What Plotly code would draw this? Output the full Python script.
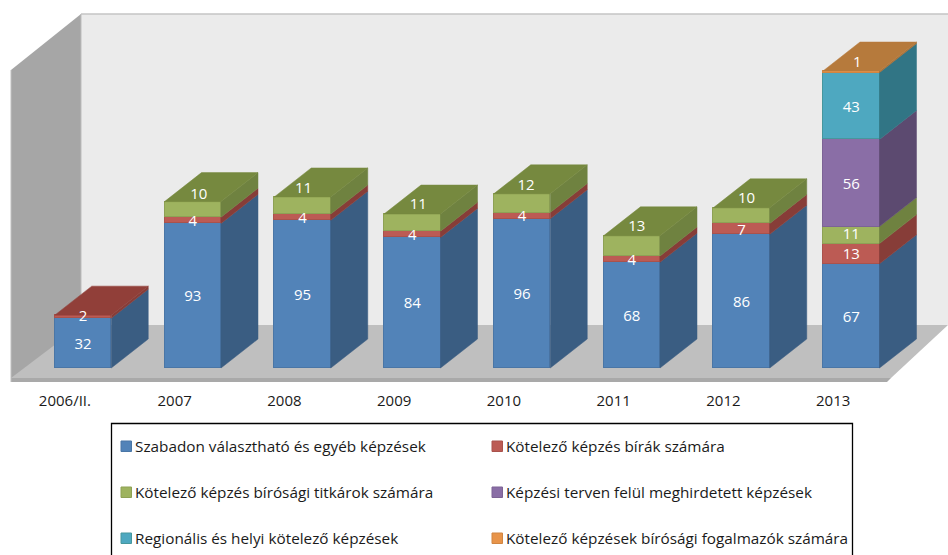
import numpy as np
import plotly.graph_objects as go

W, H = 948, 555
PLOT_BOTTOM = 390

categories = ["2006/II.", "2007", "2008", "2009", "2010", "2011", "2012", "2013"]
series_names = [
    "Szabadon választható és egyéb képzések",
    "Kötelező képzés bírák számára",
    "Kötelező képzés bírósági titkárok számára",
    "Képzési terven felül meghirdetett képzések",
    "Regionális és helyi kötelező képzések",
    "Kötelező képzések bírósági fogalmazók számára",
]
szabadon = [32, 93, 95, 84, 96, 68, 86, 67]
birak = [2, 4, 4, 4, 4, 4, 7, 13]
titkarok = [None, 10, 11, 11, 12, 13, 10, 11]
terven_felul = [None, None, None, None, None, None, None, 56]
regionalis = [None, None, None, None, None, None, None, 43]
fogalmazok = [None, None, None, None, None, None, None, 1]
all_series = [szabadon, birak, titkarok, terven_felul, regionalis, fogalmazok]

front_colors = ["#5283b8", "#bc5b54", "#9eb35f", "#8a6ea6", "#4ea8c0", "#e8944a"]
edge_colors = ["#4a76a6", "#a9524c", "#8ea155", "#7c6395", "#46979d", "#d08542"]
side_colors = ["#3a5d82", "#873d38", "#6f8240", "#5c4a70", "#317585", "#a86f35"]
top_colors = ["#3a5d82", "#913f39", "#76893f", "#5c4a70", "#317585", "#b67a3c"]

# px geometry of the pseudo-3D view
X0, X_STEP = 83, 109.75
Y0, Y_UNIT = 368, 1.555
BAR_W = 56.5 / X_STEP
DX, DY = 37 / X_STEP, 29 / Y_UNIT
x_range = [-X0 / X_STEP, (W - X0) / X_STEP]
y_range = [(Y0 - PLOT_BOTTOM) / Y_UNIT, Y0 / Y_UNIT]

# label shift of the top stack element, in px (right, up)
LABEL_DOWN = 2
top_label_dx = [0, 6, 1, 6, 4, 5, 5, 6]
top_label_dy = [1, 16, 18, 19, 19, 21, 18, 11]
label_nudge_up = {(7, 2): 2}

xs = list(range(len(categories)))
vals = np.array([[np.nan if v is None else v for v in s] for s in all_series], dtype=float)
tops = np.nancumsum(vals, axis=0)
fig = go.Figure()

# front faces
for s, name, c, e in zip(all_series, series_names, front_colors, edge_colors):
    fig.add_trace(go.Bar(x=xs, y=s, name=name, width=BAR_W, showlegend=False,
                         marker=dict(color=c, line=dict(color=e, width=1))))

# side and top faces, from the same values
for k, name in enumerate(series_names):
    sx, sy, tx, ty = [], [], [], []
    for i in xs:
        if np.isnan(vals[k, i]):
            continue
        r = i + BAR_W / 2
        l = i - BAR_W / 2
        lo, hi = tops[k, i] - vals[k, i], tops[k, i]
        sx += [r, r + DX, r + DX, r, r, None]
        sy += [lo, lo + DY, hi + DY, hi, lo, None]
        if np.isnan(vals[k + 1:, i]).all():
            tx += [l, r, r + DX, l + DX, l, None]
            ty += [hi, hi, hi + DY, hi + DY, hi, None]
    for px_, py_, col in ((sx, sy, side_colors[k]), (tx, ty, top_colors[k])):
        if px_:
            fig.add_trace(go.Scatter(x=px_, y=py_, mode="lines", fill="toself", fillcolor=col,
                                     line=dict(color=col, width=0.5), hoverinfo="skip",
                                     showlegend=False))

# value labels
lx, ly, lt = [], [], []
for i in xs:
    last = max(k for k in range(len(all_series)) if not np.isnan(vals[k, i]))
    for k in range(last + 1):
        if np.isnan(vals[k, i]):
            continue
        mid = tops[k, i] - vals[k, i] / 2 - LABEL_DOWN / Y_UNIT
        mid += label_nudge_up.get((i, k), 0) / Y_UNIT
        if k == last:
            lx.append(i + top_label_dx[i] / X_STEP)
            ly.append(mid + top_label_dy[i] / Y_UNIT)
        else:
            lx.append(i)
            ly.append(mid)
        lt.append(str(int(vals[k, i])))
fig.add_trace(go.Scatter(x=lx, y=ly, text=lt, mode="text", showlegend=False, hoverinfo="skip",
                         textposition="middle center",
                         textfont=dict(family="Open Sans", size=15, color="white")))


def xp(p):
    return p / W


def yp(p):
    return 1 - p / PLOT_BOTTOM


def poly(points, fill, line=None, lw=0, layer="below"):
    path = "M" + "L".join(f"{xp(a):.5f},{yp(b):.5f}" for a, b in points) + "Z"
    return dict(type="path", xref="paper", yref="paper", path=path, fillcolor=fill, layer=layer,
                line=dict(color=line or fill, width=lw))


shapes = [
    poly([(81, 14), (948, 14), (948, 325), (81, 325)], "#ebebeb"),
    poly([(11, 70), (81, 14), (81, 325), (11, 381)], "#a6a6a6"),
    poly([(11, 378), (81, 325), (948, 325), (891, 378)], "#bfbfbf"),
    poly([(11, 378), (891, 378), (887, 382), (11, 382)], "#a9a9a9"),
    dict(type="line", xref="paper", yref="paper", x0=xp(81), x1=xp(948), y0=yp(14), y1=yp(14),
         line=dict(color="#c4c4c4", width=1.5), layer="below"),
    dict(type="line", xref="paper", yref="paper", x0=xp(81), x1=xp(81), y0=yp(14), y1=yp(325),
         line=dict(color="#bdbdbd", width=1), layer="below"),
    dict(type="line", xref="paper", yref="paper", x0=xp(11), x1=xp(11), y0=yp(70), y1=yp(382),
         line=dict(color="#c0c0c0", width=1), layer="below"),
    dict(type="rect", xref="paper", yref="paper", x0=xp(111.5), x1=xp(852.5), y0=yp(423.5), y1=yp(570),
         line=dict(color="#000000", width=1.3), fillcolor="rgba(0,0,0,0)", layer="above"),
]

# legend block
annotations = []
legend_col_x = [121, 492]
legend_row_y = [446, 492, 538]
for n, (name, c, e) in enumerate(zip(series_names, front_colors, edge_colors)):
    cx, ry = legend_col_x[n % 2], legend_row_y[n // 2]
    shapes.append(dict(type="rect", xref="paper", yref="paper", x0=xp(cx), x1=xp(cx + 10.5),
                       y0=yp(ry - 5), y1=yp(ry + 5.5), fillcolor=c, line=dict(color=e, width=1)))
    annotations.append(dict(xref="paper", yref="paper", x=xp(cx + 14), y=yp(ry), text=name,
                            showarrow=False, xanchor="left", yanchor="middle", xshift=0,
                            font=dict(family="Open Sans", size=15.3, color="#1a1a1a"),
                            borderpad=0, borderwidth=0))

fig.update_layout(
    width=W, height=H, autosize=False, barmode="stack", bargap=0,
    margin=dict(l=0, r=0, t=0, b=H - PLOT_BOTTOM, pad=0),
    paper_bgcolor="white", plot_bgcolor="rgba(0,0,0,0)",
    shapes=shapes, annotations=annotations, showlegend=False,
    font=dict(family="Open Sans", size=15, color="#1a1a1a"),
    xaxis=dict(range=x_range, tickmode="array", tickvals=[i - 0.165 for i in xs], ticktext=categories,
               showgrid=False, zeroline=False, showline=False, ticks="", fixedrange=True,
               tickfont=dict(family="Open Sans", size=15, color="#1a1a1a")),
    yaxis=dict(range=y_range, visible=False, fixedrange=True),
)
fig.write_html("out.html", post_script="document.body.style.margin='0';", config=dict(displayModeBar=False))
